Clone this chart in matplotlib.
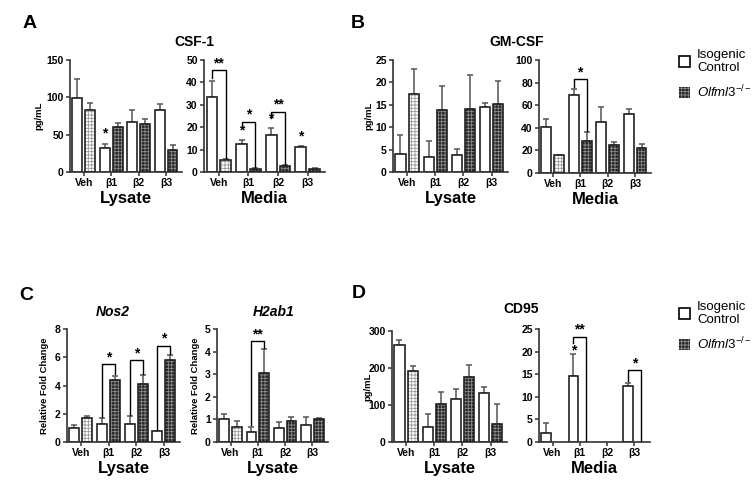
import numpy as np
import matplotlib
matplotlib.use('Agg')
import matplotlib.pyplot as plt
from matplotlib.patches import Patch

plt.rcParams['font.family'] = ['Liberation Sans', 'DejaVu Sans']
plt.rcParams['font.weight'] = 'bold'
plt.rcParams['mathtext.fontset'] = 'custom'
plt.rcParams['mathtext.it'] = 'Liberation Sans:style=italic:weight=normal'
plt.rcParams['mathtext.rm'] = 'Liberation Sans:weight=normal'
plt.rcParams['hatch.linewidth'] = 0.6

groups = ['Veh', 'β1', 'β2', 'β3']

# A - CSF-1
csf_lys_wt = [99, 32, 67, 83]
csf_lys_wt_err = [26, 6, 16, 8]
csf_lys_ko = [83, 60, 64, 30]
csf_lys_ko_err = [9, 6, 7, 6]
csf_med_wt = [33.5, 12.3, 16.7, 11.0]
csf_med_wt_err = [7.3, 2.0, 3.0, 0.7]
csf_med_ko = [5.2, 1.5, 2.8, 1.3]
csf_med_ko_err = [0.4, 0.3, 0.4, 0.4]

# B - GM-CSF
gm_lys_wt = [4.0, 3.3, 3.8, 14.5]
gm_lys_wt_err = [4.3, 3.6, 1.4, 0.8]
gm_lys_ko = [17.4, 13.9, 14.0, 15.1]
gm_lys_ko_err = [5.6, 5.2, 7.6, 5.3]
gm_med_wt = [40.5, 69, 45, 52]
gm_med_wt_err = [7, 5, 13, 5]
gm_med_ko = [15.5, 28, 25, 22]
gm_med_ko_err = [0.8, 8, 2, 3.5]

# C - qPCR
nos2_wt = [1.0, 1.3, 1.3, 0.75]
nos2_wt_err = [0.2, 0.42, 0.55, 0.05]
nos2_ko = [1.7, 4.4, 4.1, 5.8]
nos2_ko_err = [0.15, 0.3, 0.62, 0.35]
h2ab1_wt = [1.0, 0.45, 0.6, 0.75]
h2ab1_wt_err = [0.25, 0.2, 0.3, 0.35]
h2ab1_ko = [0.68, 3.05, 0.95, 1.0]
h2ab1_ko_err = [0.27, 1.05, 0.17, 0.05]

# D - CD95
cd95_lys_wt = [262, 40, 115, 132]
cd95_lys_wt_err = [14, 37, 29, 16]
cd95_lys_ko = [192, 102, 175, 50]
cd95_lys_ko_err = [13, 34, 33, 52]
cd95_med_wt = [2.0, 14.5, np.nan, 12.3]
cd95_med_wt_err = [2.2, 5.0, np.nan, 0.8]
cd95_med_ko = [np.nan, np.nan, np.nan, np.nan]
cd95_med_ko_err = [np.nan, np.nan, np.nan, np.nan]

# significance: brackets (group, left bottom, top, right bottom, label); stars over WT (group, y, label)
csf_lys_stars = [(1, 42, '*')]
csf_med_brackets = [(0, 42, 45.5, 6.2, '**'), (1, 19.5, 22.5, 2.3, '*'), (2, 24, 27, 3.7, '**')]
csf_med_stars = [(1, 15.3, '*'), (2, 20.7, '*'), (3, 12.7, '*')]
gm_med_brackets = [(1, 76, 83, 37, '*')]
nos2_brackets = [(1, 1.8, 5.5, 4.8, '*'), (2, 1.9, 5.8, 4.8, '*'), (3, 0.9, 6.8, 6.2, '*')]
h2ab1_brackets = [(1, 0.75, 4.45, 4.15, '**')]
cd95_med_brackets = [(1, 22, 23.3, 0, '**'), (3, 13.5, 15.9, 0, '*')]
cd95_med_stars = [(1, 18.8, '*')]

W, H = 754, 496
fig = plt.figure(figsize=(W / 100, H / 100), dpi=100)


def rect(l, r, t, b):
    return [l / W, 1 - b / H, (r - l) / W, (b - t) / H]


def panel(box, wt, wt_err, ko, ko_err, ymax, yticks, xlabel, ylabel=None, ylab_x=None,
          brackets=(), stars=()):
    ax = fig.add_axes(rect(*box))
    x = np.arange(len(groups))
    off, bw = 0.235, 0.36
    wt = np.array(wt, float)
    ko = np.array(ko, float)
    ax.bar(x - off, wt, bw, color='white', edgecolor='#222222', linewidth=1.2, zorder=2)
    for i in range(len(groups)):
        if np.isnan(ko[i]):
            continue
        if i == 0:
            fc, hc = 'white', '#9a9a9a'
        else:
            fc, hc = '#262626', '#8c8c8c'
        ax.bar(x[i] + off, ko[i], bw, color=fc, edgecolor=hc, hatch='+++++', linewidth=0, zorder=2)
        ax.bar(x[i] + off, ko[i], bw, fill=False, edgecolor='#222222', linewidth=1.2, zorder=3)
    we = np.array(wt_err, float)
    ke = np.array(ko_err, float)
    ax.errorbar(x - off, wt, yerr=[np.zeros_like(we), we], fmt='none', ecolor='#555555',
                elinewidth=1.1, capsize=2.5, capthick=1.1, zorder=1)
    ax.errorbar(x + off, ko, yerr=[np.zeros_like(ke), ke], fmt='none', ecolor='#555555',
                elinewidth=1.1, capsize=2.5, capthick=1.1, zorder=1)
    for g, yl, yt, yr, lab in brackets:
        ax.plot([g - off, g - off, g + off, g + off], [yl, yt, yt, yr], color='black', lw=1, zorder=4)
        ax.text(g, yt, lab, ha='center', va='bottom', fontsize=10, fontweight='bold')
    for g, y, lab in stars:
        ax.text(g - off, y, lab, ha='center', va='bottom', fontsize=10, fontweight='bold')
    ax.set_xlim(-0.5, 3.58)
    ax.set_ylim(0, ymax)
    ax.set_yticks(yticks)
    ax.set_xticks(x)
    ax.set_xticklabels(groups)
    for s in ['top', 'right']:
        ax.spines[s].set_visible(False)
    for s in ['left', 'bottom']:
        ax.spines[s].set_linewidth(1.2)
        ax.spines[s].set_color('#333333')
    ax.tick_params(axis='both', direction='out', length=3, width=1.1, labelsize=7.5, pad=1.5,
                   color='#333333')
    for lab in ax.get_xticklabels() + ax.get_yticklabels():
        lab.set_fontweight('bold')
    ax.set_xlabel(xlabel, fontsize=12, fontweight='bold', labelpad=2)
    if ylabel:
        ax.set_ylabel(ylabel, fontsize=6.8, fontweight='bold')
        ax.yaxis.set_label_coords((ylab_x - box[0]) / (box[1] - box[0]), 0.5)
    return ax


panel((70, 182, 60, 172), csf_lys_wt, csf_lys_wt_err, csf_lys_ko, csf_lys_ko_err,
      150, [0, 50, 100, 150], 'Lysate', 'pg/mL', 43, stars=csf_lys_stars)
panel((204, 325, 60, 172), csf_med_wt, csf_med_wt_err, csf_med_ko, csf_med_ko_err,
      50, [0, 10, 20, 30, 40, 50], 'Media', brackets=csf_med_brackets, stars=csf_med_stars)
panel((393, 508, 60, 172), gm_lys_wt, gm_lys_wt_err, gm_lys_ko, gm_lys_ko_err,
      25, [0, 5, 10, 15, 20, 25], 'Lysate', 'pg/mL', 373)
panel((539, 651, 60, 173), gm_med_wt, gm_med_wt_err, gm_med_ko, gm_med_ko_err,
      100, [0, 20, 40, 60, 80, 100], 'Media', brackets=gm_med_brackets)
panel((67, 180, 329, 442), nos2_wt, nos2_wt_err, nos2_ko, nos2_ko_err,
      8, [0, 2, 4, 6, 8], 'Lysate', 'Relative Fold Change', 49, brackets=nos2_brackets)
panel((217, 328, 329, 442), h2ab1_wt, h2ab1_wt_err, h2ab1_ko, h2ab1_ko_err,
      5, [0, 1, 2, 3, 4, 5], 'Lysate', 'Relative Fold Change', 200, brackets=h2ab1_brackets)
panel((392, 507, 331, 442), cd95_lys_wt, cd95_lys_wt_err, cd95_lys_ko, cd95_lys_ko_err,
      300, [0, 100, 200, 300], 'Lysate', 'pg/mL', 372)
panel((539, 650, 329, 442), cd95_med_wt, cd95_med_wt_err, cd95_med_ko, cd95_med_ko_err,
      25, [0, 5, 10, 15, 20, 25], 'Media', brackets=cd95_med_brackets, stars=cd95_med_stars)


def ftext(x, y, s, **kw):
    fig.text(x / W, 1 - y / H, s, ha='center', va='center', fontweight='bold', **kw)


ftext(30, 24, 'A', fontsize=14)
ftext(358, 24, 'B', fontsize=14)
ftext(26, 295, 'C', fontsize=14)
ftext(359, 294, 'D', fontsize=14)
ftext(194, 42, 'CSF-1', fontsize=10)
ftext(517, 42, 'GM-CSF', fontsize=10)
ftext(113, 312, 'Nos2', fontsize=10, fontstyle='italic')
ftext(274, 312, 'H2ab1', fontsize=10, fontstyle='italic')
ftext(521, 309, 'CD95', fontsize=10)

handles = [Patch(facecolor='white', edgecolor='black', linewidth=1.2),
           Patch(facecolor='#262626', edgecolor='#8c8c8c', hatch='+++++', linewidth=0)]
labels = ['Isogenic\nControl', r'$\mathit{Olfml3}^{-/-}$']
for ytop in (42, 294):
    fig.legend(handles, labels, loc='upper left', bbox_to_anchor=(672 / W, 1 - ytop / H),
               frameon=False, prop={'size': 9.5, 'weight': 'normal'}, handlelength=0.9,
               handleheight=0.9, handletextpad=0.5, labelspacing=0.7, borderpad=0)

fig.savefig('out.png', dpi=100)
